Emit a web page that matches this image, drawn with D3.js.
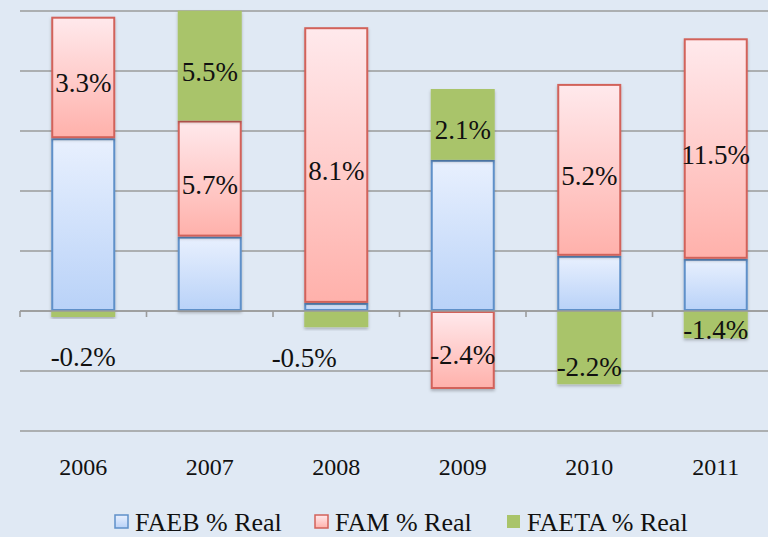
<!DOCTYPE html>
<html><head><meta charset="utf-8">
<script src="https://cdn.jsdelivr.net/npm/d3@7"></script>
<style>
html,body{margin:0;padding:0;background:#e0e9f4;}
svg{display:block;}
svg text{font-family:"Liberation Serif","DejaVu Serif","Times New Roman",serif;}
</style></head>
<body>
<svg id="chart" width="768" height="537"></svg>
<script>
// ---- data ----
const years = ["2006","2007","2008","2009","2010","2011"];
const faeb  = [5.76, 2.48, 0.27, 5.04, 1.84, 1.74];
const fam   = [4.05, 3.87, 9.19, -2.60, 5.73, 7.35];
const faeta = [-0.20, 3.66, -0.54, 2.36, -2.44, -0.91];
const famLabels   = ["3.3%", "5.7%", "8.1%", "-2.4%", "5.2%", "11.5%"];
const faetaLabels = ["-0.2%", "5.5%", "-0.5%", "2.1%", "-2.2%", "-1.4%"];
const seriesNames = ["FAEB % Real", "FAM % Real", "FAETA % Real"];
const gridTicks = [-4, -2, 0, 2, 4, 6, 8, 10];

// ---- layout ----
const svg = d3.select("#chart");
const W = 768, H = 537;
const x = d3.scaleBand().domain(years).range([20, 779]).paddingInner(0.494).paddingOuter(0.247);
const y = d3.scaleLinear().domain([-4, 10]).range([431, 11]);

svg.append("rect").attr("width", W).attr("height", H).attr("fill", "#e0e9f4");

const defs = svg.append("defs");
function grad(id, top, bottom) {
  const g = defs.append("linearGradient").attr("id", id).attr("x1", 0).attr("y1", 0).attr("x2", 0).attr("y2", 1);
  g.append("stop").attr("offset", "0%").attr("stop-color", top);
  g.append("stop").attr("offset", "100%").attr("stop-color", bottom);
}
grad("gBlue", "#e8f0fe", "#b9d2f8");
grad("gRed", "#ffe9ec", "#ffb1ab");
const shadow = defs.append("filter").attr("id", "sh").attr("x", "-20%").attr("y", "-20%").attr("width", "140%").attr("height", "140%");
shadow.append("feDropShadow").attr("dx", 0).attr("dy", 2).attr("stdDeviation", 1.5).attr("flood-color", "#000").attr("flood-opacity", 0.25);

// gridlines
svg.append("g").selectAll("line").data(gridTicks).join("line")
  .attr("x1", 20).attr("x2", W).attr("y1", d => y(d)).attr("y2", d => y(d))
  .attr("stroke", "#9b9b9b").attr("stroke-width", 1.6);

// zero axis ticks at band boundaries
const step = x.step();
const boundaries = d3.range(years.length + 1).map(i => 20 + i * step);
svg.append("g").selectAll("line").data(boundaries).join("line")
  .attr("x1", d => d).attr("x2", d => d).attr("y1", y(0)).attr("y2", y(0) + 6)
  .attr("stroke", "#9b9b9b").attr("stroke-width", 1.6);

// stack
const rows = years.map((yr, i) => ({year: yr, faeb: faeb[i], fam: fam[i], faeta: faeta[i]}));
const keys = ["faeb", "fam", "faeta"];
const stacked = d3.stack().keys(keys).offset(d3.stackOffsetDiverging)(rows);
const styles = {
  faeb: {fill: "url(#gBlue)", stroke: "#5f90c9", inset: 1, sw: 2},
  fam: {fill: "url(#gRed)", stroke: "#d2625a", inset: 1, sw: 2},
  faeta: {fill: "#a9c46a", stroke: "none", inset: 0, sw: 0}
};

const bars = svg.append("g");
stacked.forEach(layer => {
  const st = styles[layer.key];
  bars.append("g").selectAll("rect").data(layer).join("rect")
    .attr("x", d => x(d.data.year) + st.inset)
    .attr("width", x.bandwidth() - 2 * st.inset)
    .attr("y", d => y(Math.max(d[0], d[1])) + st.inset)
    .attr("height", d => Math.max(0, Math.abs(y(d[0]) - y(d[1])) - 2 * st.inset))
    .attr("fill", st.fill)
    .attr("stroke", st.stroke)
    .attr("stroke-width", st.sw)
    .attr("filter", "url(#sh)");
});

svg.append("line").attr("x1", 20).attr("x2", W).attr("y1", y(0)).attr("y2", y(0))
  .attr("stroke", "#9b9b9b").attr("stroke-width", 1.6);

// labels
const nudge = { // [dx, dy] label placement offsets
  "fam-2009": [0, 5], "faeta-2006": [0, 43], "faeta-2008": [-32, 39],
  "faeta-2010": [0, 19], "faeta-2011": [0, 5]
};
const labelSets = {fam: famLabels, faeta: faetaLabels};
const lbl = svg.append("g").attr("font-size", 27).attr("fill", "#111").attr("text-anchor", "middle");
stacked.filter(l => labelSets[l.key]).forEach(layer => {
  layer.forEach((d, i) => {
    const k = layer.key + "-" + d.data.year;
    const nd = nudge[k] || [0, 6];
    lbl.append("text")
      .attr("x", x(d.data.year) + x.bandwidth() / 2 + nd[0])
      .attr("y", (y(d[0]) + y(d[1])) / 2 + nd[1])
      .attr("dominant-baseline", "central")
      .text(labelSets[layer.key][i]);
  });
});

// x axis labels
svg.append("g").selectAll("text").data(years).join("text")
  .attr("x", d => x(d) + x.bandwidth() / 2)
  .attr("y", 467)
  .attr("dominant-baseline", "central")
  .attr("text-anchor", "middle")
  .attr("font-size", 24).attr("fill", "#111")
  .text(d => d);

// legend
const legendX = [115, 315, 507];
const legendFill = ["url(#gBlue)", "url(#gRed)", "#a9c46a"];
const legendStroke = ["#5f90c9", "#d2625a", "none"];
const lg = svg.append("g");
seriesNames.forEach((name, i) => {
  lg.append("rect").attr("x", legendX[i]).attr("y", 515).attr("width", 13).attr("height", 13)
    .attr("fill", legendFill[i]).attr("stroke", legendStroke[i]).attr("stroke-width", legendStroke[i] === "none" ? 0 : 1.5);
  lg.append("text").attr("x", legendX[i] + 20).attr("y", 522)
    .attr("dominant-baseline", "central")
    .attr("font-size", 26).attr("fill", "#111")
    .text(name);
});
</script>
</body></html>
